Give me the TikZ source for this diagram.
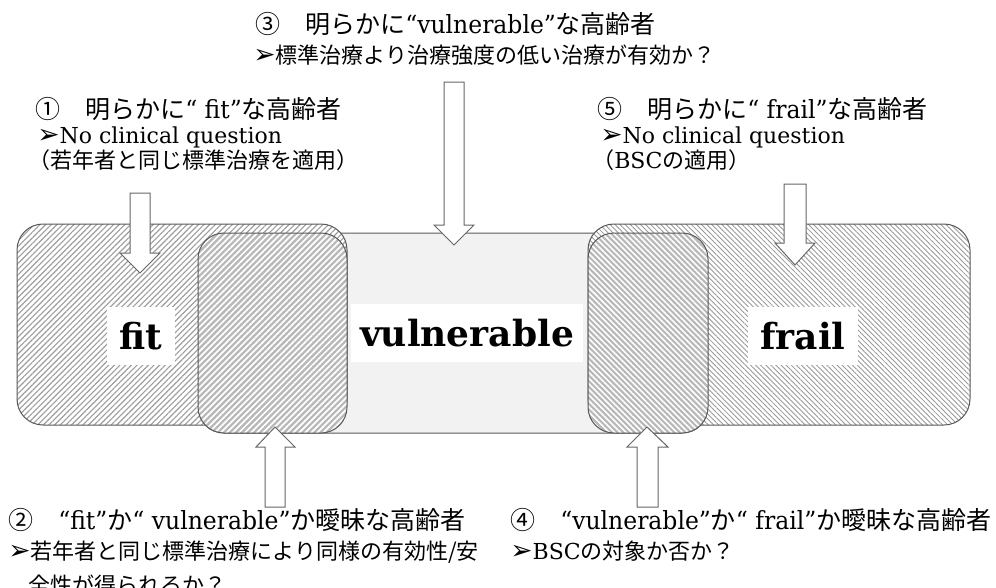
\documentclass[tikz,border=0pt]{standalone}
\usepackage{fontspec}
\setmainfont{DejaVu Serif}
\newfontfamily\latt{DejaVu Serif}[FakeStretch=0.94]
\newfontfamily\jp{Noto Sans CJK JP}
\newfontfamily\symf{DejaVu Sans}
\usetikzlibrary{patterns.meta}
\newcommand\TitleSz{\fontsize{18.75pt}{22pt}\selectfont\latt}
\newcommand\SubSz{\fontsize{16.5pt}{20pt}\selectfont}
\newcommand\LabSz{\fontsize{27pt}{30pt}\selectfont\bfseries}
\newcommand\Bul{{\symf\fontsize{20pt}{20pt}\selectfont ➢}}
\tikzset{
  outl/.style={draw=black!65, line width=0.75pt},
  fitzone/.style={outl, rounded corners=19.5pt, preaction={fill=white},
    pattern={Lines[angle=45,distance=3pt,line width=0.85pt]}, pattern color=black!38},
  frailzone/.style={outl, rounded corners=19.5pt, preaction={fill=white},
    pattern={Lines[angle=-45,distance=2.7pt,line width=0.65pt]}, pattern color=black!40},
  vulzone/.style={outl, rounded corners=19.5pt, fill=black!5},
  ovlL/.style={outl, rounded corners=19.5pt, preaction={fill=black!28},
    pattern={Lines[angle=45,distance=3.2pt,line width=1.3pt]}, pattern color=white},
  ovlR/.style={outl, rounded corners=19.5pt, preaction={fill=black!28},
    pattern={Lines[angle=-45,distance=3pt,line width=1.2pt]}, pattern color=white},
  labbox/.style={fill=white, inner sep=0pt, minimum height=43.5pt, font=\LabSz},
  blockarrow/.style={draw=black!60, fill=white, line width=0.75pt, line join=miter},
  txt/.style={anchor=base west, inner sep=0pt}
}
\begin{document}
\begin{tikzpicture}[x=0.75pt,y=-0.75pt]
\useasboundingbox (0,0) rectangle (996,587);
% regions
\draw[vulzone] (198,233) rectangle (708,433);
\draw[fitzone] (17,224) rectangle (347,425);
\draw[frailzone] (588,224) rectangle (970,425);
\draw[ovlL] (198,233) rectangle (347,433);
\draw[ovlR] (588,233) rectangle (708,433);
% labels
\node[labbox, minimum width=51pt] (fitlab) at (141,336) {fit};
\node[labbox, minimum width=174pt] (vullab) at (467,333) {vulnerable};
\node[labbox, minimum width=82.5pt] (fraillab) at (803,336) {frail};
% block arrows
\draw[blockarrow] (130,193) -- (150,193) -- (150,253) -- (160,253) -- (140,273) -- (120,253) -- (130,253) -- cycle;
\draw[blockarrow] (444,82) -- (464,82) -- (464,225) -- (474,225) -- (454,245) -- (434,225) -- (444,225) -- cycle;
\draw[blockarrow] (784,184) -- (806,184) -- (806,243) -- (815,243) -- (795,265) -- (775,243) -- (784,243) -- cycle;
\draw[blockarrow] (265,507) -- (285,507) -- (285,447) -- (295,447) -- (275,427) -- (256,447) -- (265,447) -- cycle;
\draw[blockarrow] (637,507) -- (658,507) -- (658,447) -- (668,447) -- (647,427) -- (627,447) -- (637,447) -- cycle;
% texts
\node[txt] (t3) at (255,33) {\TitleSz{\jp ③　明らかに}“vulnerable”{\jp な高齢者}};
\node[txt] (s3) at (253,63) {\SubSz\Bul{\jp 標準治療より治療強度の低い治療が有効か？}};
\node[txt] (t1) at (35,118) {\TitleSz{\jp ①　明らかに}“ fit”{\jp な高齢者}};
\node[txt] (s1a) at (37,143) {\SubSz\Bul No clinical question};
\node[txt] (s1b) at (28,168) {\SubSz\jp （若年者と同じ標準治療を適用）};
\node[txt] (t5) at (597,118) {\TitleSz{\jp ⑤　明らかに}“ frail”{\jp な高齢者}};
\node[txt] (s5a) at (600,143) {\SubSz\Bul No clinical question};
\node[txt] (s5b) at (592,168) {\SubSz{\jp （}BSC{\jp の適用）}};
\node[txt] (t2) at (8,529) {\TitleSz{\jp ②　}“fit”{\jp か}“ vulnerable”{\jp か曖昧な高齢者}};
\node[txt] (s2a) at (8,559) {\SubSz\Bul{\jp 若年者と同じ標準治療により同様の有効性/安}};
\node[txt] (s2b) at (28,593) {\SubSz\jp 全性が得られるか？};
\node[txt] (t4) at (510,529) {\TitleSz{\jp ④　}“vulnerable”{\jp か}“ frail”{\jp か曖昧な高齢者}};
\node[txt] (s4) at (510,559) {\SubSz\Bul BSC{\jp の対象か否か？}};
\end{tikzpicture}
\end{document}
